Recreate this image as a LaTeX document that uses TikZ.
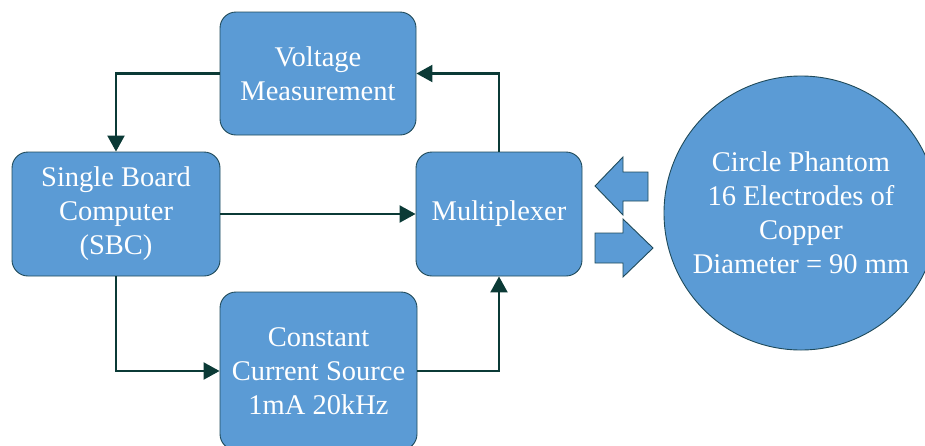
\documentclass[tikz,border=0pt]{standalone}
\usepackage{fontspec}
\setmainfont{Liberation Serif}
\usetikzlibrary{arrows.meta}
\definecolor{boxfill}{HTML}{5B9BD5}
\definecolor{boxline}{HTML}{1F4A5A}
\definecolor{conn}{HTML}{0B3A36}
\begin{document}
\begin{tikzpicture}[x=1pt,y=-1pt,
  blk/.style={draw=boxline, line width=0.9pt, fill=boxfill, rounded corners=16pt,
    text=white, align=center, inner sep=0pt,
    font=\fontsize{28.5}{34}\selectfont},
  conline/.style={draw=conn, line width=2.2pt, -{Triangle[length=16pt,width=17pt]}},
  fatarrow/.style={draw=boxline, line width=0.9pt, fill=boxfill}]
\useasboundingbox (0,0) rectangle (925,445);
\node[blk, minimum width=196pt, minimum height=123pt] (volt) at (318,73.5) {Voltage\\Measurement};
\node[blk, minimum width=208pt, minimum height=124pt] (sbc) at (116,214) {Single Board\\Computer\\(SBC)};
\node[blk, minimum width=166pt, minimum height=124pt] (mux) at (499,214) {Multiplexer};
\node[blk, minimum width=197pt, minimum height=158pt, text depth=0pt] (ccs) at (318.5,371) {Constant\\Current Source\\1mA 20kHz};
\node[blk, circle, minimum size=274pt, rounded corners=0pt] (phantom) at (801,213)
  {Circle Phantom\\16 Electrodes of\\Copper\\Diameter = 90 mm};
\draw[conline] (volt.west) -| (sbc.north);
\draw[conline] (mux.north) |- (volt.east);
\draw[conline] (sbc.east) -- (mux.west);
\draw[conline] (sbc.south) |- (ccs.west);
\draw[conline] (ccs.east) -| (mux.south);
% block arrows
\draw[fatarrow] (648,172) -- (623,172) -- (623,157) -- (595,186) -- (623,215) -- (623,201) -- (648,201) -- cycle;
\draw[fatarrow] (595,233) -- (623,233) -- (623,219) -- (653,248) -- (623,277) -- (623,263) -- (595,263) -- cycle;
\end{tikzpicture}
\end{document}
